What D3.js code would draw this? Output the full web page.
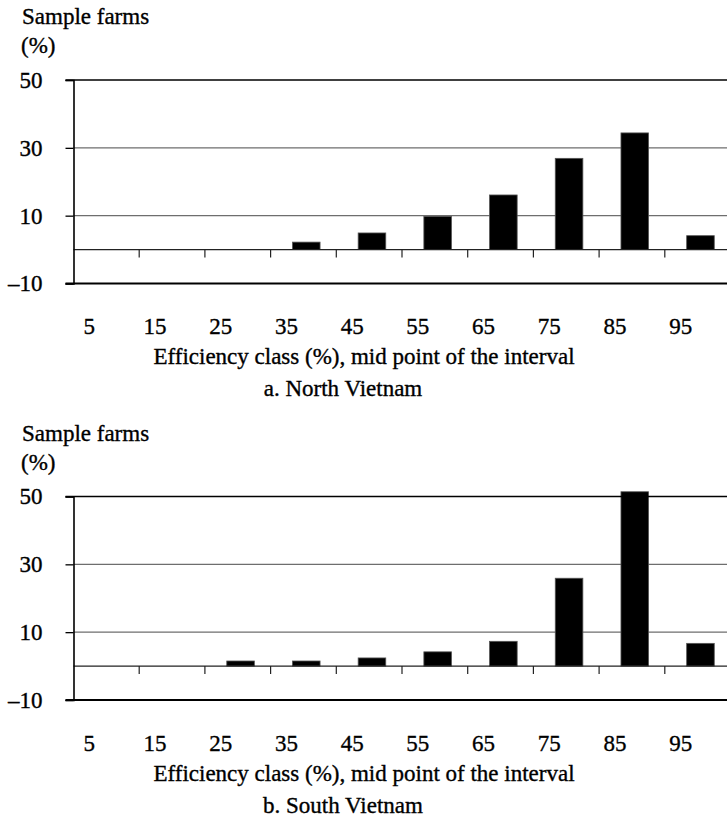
<!DOCTYPE html>
<html>
<head>
<meta charset="utf-8">
<script src="https://cdn.jsdelivr.net/npm/d3@7"></script>
<style>
  body { margin: 0; background: #fff; }
  svg { display: block; }
  svg text { font-family: "Liberation Serif", "Times New Roman", Times, serif !important; fill: #000; stroke: #000; stroke-width: 0.35px; }
</style>
</head>
<body>
<div id="chart"></div>
<script>
"use strict";

// efficiency classes (mid point of the interval)
var classes = [5, 15, 25, 35, 45, 55, 65, 75, 85, 95];
var yTicks = [50, 30, 10, -10];

// share of sample farms (%) per class
var northValues = [0, 0, 0, 2.2, 4.9, 9.8, 16.1, 26.9, 34.4, 4.1];
var southValues = [0, 0, 1.5, 1.5, 2.4, 4.2, 7.3, 25.9, 51.4, 6.7];

var panels = [
  { title: "a. North Vietnam", values: northValues },
  { title: "b. South Vietnam", values: southValues }
];

var width = 727, height = 816;
var left = 73.5, right = 730.5;   // plot runs a bit past the right edge
var panelTop = 80, panelBottom = 283.5, panelStep = 416.5;

var svg = d3.select("#chart").append("svg")
  .attr("width", width)
  .attr("height", height)
  .attr("font-family", "Liberation Serif");

var x = d3.scaleBand()
  .domain(classes)
  .range([left, right]);

var y = d3.scaleLinear()
  .domain([-10, 50])
  .range([panelBottom, panelTop]);

panels.forEach(function(p, k) {
  var g = svg.append("g")
    .attr("transform", "translate(0," + (k * panelStep) + ")");

  // y axis title
  g.append("text").attr("x", 22).attr("y", 24)
    .attr("font-size", 23).text("Sample farms");
  g.append("text").attr("x", 21).attr("y", 53)
    .attr("font-size", 23).text("(%)");

  // gridlines
  g.selectAll(".grid")
    .data(yTicks.filter(function(d) { return d == 30 || d == 10; }))
    .enter().append("line")
    .attr("x1", left).attr("x2", width)
    .attr("y1", function(d) { return y(d); })
    .attr("y2", function(d) { return y(d); })
    .attr("stroke", "#6e6e6e")
    .attr("stroke-width", 1.3);

  // bars
  var bw = x.bandwidth() * 0.42;
  g.selectAll(".bar")
    .data(p.values)
    .enter().append("rect")
    .attr("x", function(d, i) { return x(classes[i]) + x.bandwidth() * 0.31 + 1.5; })
    .attr("width", bw)
    .attr("y", function(d) { return y(d); })
    .attr("height", function(d) { return y(0) - y(d); })
    .attr("fill", "#000")
    .attr("stroke", "#555")
    .attr("stroke-width", 0.8)
    .style("display", function(d) { return d > 0 ? null : "none"; });

  // zero line with class boundary ticks
  g.append("line")
    .attr("x1", left).attr("x2", width)
    .attr("y1", y(0)).attr("y2", y(0))
    .attr("stroke", "#222").attr("stroke-width", 1.2);
  g.selectAll(".xtick")
    .data(classes.slice(1))
    .enter().append("line")
    .attr("x1", function(d) { return x(d); })
    .attr("x2", function(d) { return x(d); })
    .attr("y1", y(0)).attr("y2", y(0) + 8)
    .attr("stroke", "#222").attr("stroke-width", 1.2);

  // top and bottom frame
  g.append("line")
    .attr("x1", left - 8).attr("x2", width)
    .attr("y1", y(50)).attr("y2", y(50))
    .attr("stroke", "#000").attr("stroke-width", 1.6);
  g.append("line")
    .attr("x1", left - 8).attr("x2", width)
    .attr("y1", y(-10)).attr("y2", y(-10))
    .attr("stroke", "#000").attr("stroke-width", 2);

  // y axis
  var yAxis = g.append("g")
    .attr("transform", "translate(" + left + ",0)")
    .call(d3.axisLeft(y).tickValues(yTicks).tickSize(8).tickPadding(0)
      .tickFormat(function(d) { return d < 0 ? "\u2013" + Math.abs(d) : d; }));
  yAxis.attr("font-family", null).attr("font-size", null);
  yAxis.select(".domain").attr("stroke", "#000").attr("stroke-width", 1.6);
  yAxis.selectAll(".tick line").attr("stroke", "#000").attr("stroke-width", 1.3);
  yAxis.selectAll(".tick text")
    .attr("font-size", 23)
    .attr("x", -31)
    .attr("dy", "0.32em");

  // x tick labels, set a little left of each class centre
  g.selectAll(".xlab")
    .data(classes)
    .enter().append("text")
    .attr("x", function(d) { return x(d) + x.bandwidth() / 2 - 17; })
    .attr("y", 334)
    .attr("text-anchor", "middle")
    .attr("font-size", 23)
    .text(function(d) { return d; });

  // x axis title and panel caption
  g.append("text").attr("x", 364).attr("y", 364)
    .attr("text-anchor", "middle").attr("font-size", 23)
    .text("Efficiency class (%), mid point of the interval");
  g.append("text").attr("x", 343).attr("y", 396)
    .attr("text-anchor", "middle").attr("font-size", 23)
    .text(p.title);
});
</script>
</body>
</html>
